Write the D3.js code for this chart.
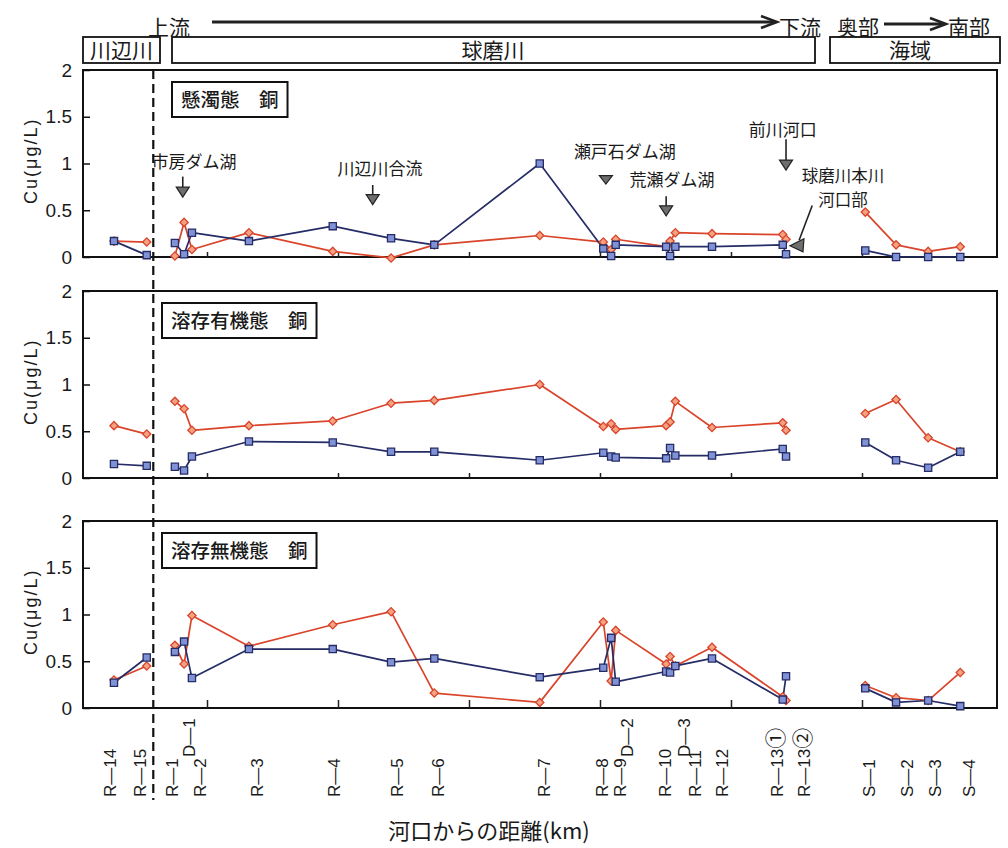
<!DOCTYPE html>
<html><head><meta charset="utf-8">
<script src="https://cdn.jsdelivr.net/npm/d3@7"></script>
<style>
body{margin:0;background:#fff}
svg{display:block}
text{fill:#1a1a1a}
</style>
</head><body>
<svg id="c" width="1008" height="848"></svg>
<script>
// ---------------- data ----------------
const stations = ["R—14","R—15","R—1","D—1","R—2","R—3","R—4","R—5","R—6","R—7","R—8","R—9","D—2","R—10","D—3","R—11","R—12","R—13①","R—13②","S—1","S—2","S—3","S—4"];
// distance along the horizontal axis (km-like units of the original axis)
const distanceKm = [5.8,10.8,15.1,16.5,17.7,26.4,39.2,48.1,54.7,70.8,80.5,81.7,82.4,90.1,90.7,91.5,97.1,107.9,108.4,120.5,125.2,130.1,135.0];
// where each station's tick label sits along the axis
const labelKm = [5.2,9.8,14.7,17.3,18.9,27.6,39.4,49.0,55.3,71.5,80.3,83.1,84.1,89.9,92.8,94.5,98.6,107.0,111.1,121.1,126.9,131.1,136.3];
const reach = ["川辺川","川辺川","球磨川","球磨川","球磨川","球磨川","球磨川","球磨川","球磨川","球磨川","球磨川","球磨川","球磨川","球磨川","球磨川","球磨川","球磨川","球磨川","球磨川","海域","海域","海域","海域"];

const panelTitles = ["懸濁態　銅","溶存有機態　銅","溶存無機態　銅"];
const yTicks = [0,0.5,1,1.5,2];
const xMajorTicks = [20,40,60,80,100,120];
const riverBoundaryKm = 11.8;

// red (diamond) series and blue (square) series, Cu µg/L
const suspendedRed  = [0.17,0.16, 0.01,0.37,0.08,0.26,0.06,-0.01,0.13,0.23, 0.16,0.08,0.19, 0.11,0.17,0.26, 0.25,0.24,0.19, 0.48,0.13,0.06,0.11];
const suspendedBlue = [0.17,0.02, 0.15,0.03,0.26,0.17,0.33,0.20,0.13,1.00, 0.09,0.01,0.13, 0.11,0.01,0.11, 0.11,0.13,0.03, 0.07,0.00,0.00,0.00];
const organicRed    = [0.56,0.47, 0.82,0.74,0.51,0.56,0.61,0.80,0.83,1.00, 0.55,0.58,0.52, 0.56,0.60,0.82, 0.54,0.59,0.51, 0.69,0.84,0.43,0.28];
const organicBlue   = [0.15,0.13, 0.12,0.08,0.23,0.39,0.38,0.28,0.28,0.19, 0.27,0.23,0.22, 0.21,0.32,0.24, 0.24,0.31,0.23, 0.38,0.19,0.11,0.28];
const inorganicRed  = [0.30,0.45, 0.67,0.47,0.99,0.66,0.89,1.03,0.16,0.06, 0.92,0.29,0.83, 0.47,0.55,0.45, 0.65,0.12,0.08, 0.24,0.11,0.08,0.38];
const inorganicBlue = [0.27,0.54, 0.60,0.71,0.32,0.63,0.63,0.49,0.53,0.33, 0.43,0.75,0.28, 0.39,0.38,0.45, 0.53,0.09,0.34, 0.21,0.06,0.08,0.02];

// annotations in the top panel (position in data units)
const annotations = [
  {text:"市房ダム湖",   km:18.0,  v:1.02, arrowKm:16.3,  stemTop:0.86, tip:0.64},
  {text:"川辺川合流",   km:46.4,  v:0.94, arrowKm:45.3,  stemTop:0.77, tip:0.56},
  {text:"瀬戸石ダム湖", km:83.8,  v:1.12, arrowKm:80.9,  stemTop:0.87, tip:0.78},
  {text:"荒瀬ダム湖",   km:91.0,  v:0.82, arrowKm:90.1,  stemTop:0.65, tip:0.44},
  {text:"前川河口",     km:107.9, v:1.36, arrowKm:108.4, stemTop:1.26, tip:0.93}
];
const mouthNote = {lines:["球磨川本川","河口部"], km:117.1, v:[0.87,0.61], leaderFrom:[112.4,0.55], leaderTo:[110.4,0.18], tip:[109.0,0.12]};

// ---------------- drawing ----------------
const JP = "'Noto Sans CJK JP','Noto Sans',sans-serif";
const NUM = "'Liberation Sans',Arial,'DejaVu Sans',sans-serif";
const RED = "#d9442a", RED_FILL = "#f5a283";
const BLUE = "#262c66", BLUE_FILL = "#8092d6";

const svg = d3.select("#c");
const x = d3.scaleLinear().domain([0,140]).range([76,993]);
const frameL = 83, frameR = 997, PH = 187;

const panels = [
  {title:panelTitles[0], red:suspendedRed, blue:suspendedBlue, y0:257, titleLeft:172},
  {title:panelTitles[1], red:organicRed,   blue:organicBlue,   y0:478, titleLeft:162},
  {title:panelTitles[2], red:inorganicRed, blue:inorganicBlue, y0:708, titleLeft:162}
];

// header boxes & arrows
const header = svg.append("g");
function box(x0,x1,label,cx){
  header.append("rect").attr("x",x0).attr("y",37).attr("width",x1-x0).attr("height",26)
    .attr("fill","none").attr("stroke","#111").attr("stroke-width",1.8);
  header.append("text").attr("x",cx).attr("y",50).attr("dy","0.36em").attr("text-anchor","middle")
    .style("font-family",JP).style("font-size","21px").text(label);
}
box(83,160,"川辺川",121.5);
box(172,815,"球磨川",493);
box(830,1000,"海域",910);
function hArrow(x0,x1,y){
  header.append("line").attr("x1",x0).attr("x2",x1-2).attr("y1",y).attr("y2",y)
    .attr("stroke","#222").attr("stroke-width",3);
  header.append("path").attr("d",`M${x1-16},${y-6}L${x1},${y}L${x1-16},${y+6}`)
    .attr("fill","none").attr("stroke","#222").attr("stroke-width",2.6);
}
hArrow(212,777,22);
hArrow(884,946,24);
[["上流",148,"start"],["下流",779,"start"],["奥部",837,"start"],["南部",948,"start"]].forEach(([t,xx,a])=>{
  header.append("text").attr("x",xx).attr("y",27).attr("dy","0.36em").attr("text-anchor",a)
    .style("font-family",JP).style("font-size","21px").text(t);
});

panels.forEach((p,i)=>{
  const y = d3.scaleLinear().domain([0,2]).range([p.y0, p.y0-PH]);
  const g = svg.append("g");

  // frame
  g.append("rect").attr("x",frameL).attr("y",y(2)).attr("width",frameR-frameL).attr("height",PH)
    .attr("fill","none").attr("stroke","#111").attr("stroke-width",2);

  // y axis
  const ya = g.append("g").attr("transform",`translate(${frameL},0)`)
    .call(d3.axisLeft(y).tickValues(yTicks).tickSize(-7).tickPadding(11).tickFormat(d3.format("~g")));
  ya.select(".domain").remove();
  ya.selectAll("line").attr("stroke","#111").attr("stroke-width",1.5);
  ya.selectAll("text").style("font-family",NUM).style("font-size","19px").attr("fill","#1a1a1a");

  // bottom ticks
  const xa = g.append("g").attr("transform",`translate(0,${p.y0})`)
    .call(d3.axisBottom(x).tickValues(xMajorTicks).tickSize(i===2?-8:-5).tickFormat(""));
  xa.select(".domain").remove();
  xa.selectAll("line").attr("stroke","#222").attr("stroke-width",1.5);

  // y title
  g.append("text").attr("transform",`translate(31,${y(1.03)}) rotate(-90)`)
    .attr("text-anchor","middle").attr("dy","0.35em")
    .style("font-family",NUM).style("font-size","18px").style("letter-spacing","2px")
    .text("Cu(μg/L)");

  // panel title box
  const tg = g.append("g");
  const tr = tg.append("rect").attr("x",p.titleLeft).attr("y",y(2)+12).attr("height",35)
    .attr("fill","#fff").attr("stroke","#111").attr("stroke-width",2);
  const tt = tg.append("text").attr("x",p.titleLeft+9).attr("y",y(2)+30).attr("dy","0.36em")
    .style("font-family",JP).style("font-size","19.5px").style("font-weight","500").text(p.title);
  tr.attr("width",tt.node().getBBox().width+18);

  // series
  const line = d3.line().x(d=>x(d.km)).y(d=>y(d.v));
  const mk = vals => stations.map((s,j)=>({s, km:distanceKm[j], reach:reach[j], v:vals[j]}));
  const red = mk(p.red), blue = mk(p.blue);
  [[red,RED],[blue,BLUE]].forEach(([pts,col])=>{
    d3.groups(pts,d=>d.reach).forEach(([k,arr])=>{
      g.append("path").attr("d",line(arr)).attr("fill","none").attr("stroke",col)
        .attr("stroke-width",1.7).attr("stroke-linejoin","round");
    });
  });
  g.append("g").selectAll("path").data(red).join("path")
    .attr("transform",d=>`translate(${x(d.km)},${y(d.v)}) rotate(45)`)
    .attr("d",d3.symbol(d3.symbolSquare,34)())
    .attr("fill",RED_FILL).attr("stroke",RED).attr("stroke-width",1.3);
  g.append("g").selectAll("path").data(blue).join("path")
    .attr("transform",d=>`translate(${x(d.km)},${y(d.v)})`)
    .attr("d",d3.symbol(d3.symbolSquare,52)())
    .attr("fill",BLUE_FILL).attr("stroke",BLUE).attr("stroke-width",1.3);

  if(i===0){
    annotations.forEach(a=>{
      g.append("text").attr("x",x(a.km)).attr("y",y(a.v)).attr("dy","0.36em").attr("text-anchor","middle")
        .style("font-family",JP).style("font-size","17px").text(a.text);
      const ax = x(a.arrowKm), top = y(a.stemTop), tip = y(a.tip);
      const th = Math.min(10, tip-top);
      if(tip-top>th+1){
        g.append("line").attr("x1",ax).attr("x2",ax).attr("y1",top).attr("y2",tip-th)
          .attr("stroke","#222").attr("stroke-width",1.6);
      }
      g.append("path").attr("d",`M${ax-6.5},${tip-th}L${ax+6.5},${tip-th}L${ax},${tip}Z`)
        .attr("fill","#6e6e6e").attr("stroke","#222").attr("stroke-width",1.2);
    });
    mouthNote.lines.forEach((t,j)=>{
      g.append("text").attr("x",x(mouthNote.km)).attr("y",y(mouthNote.v[j])).attr("dy","0.36em")
        .attr("text-anchor","middle").style("font-family",JP).style("font-size","16.5px").text(t);
    });
    g.append("line").attr("x1",x(mouthNote.leaderFrom[0])).attr("y1",y(mouthNote.leaderFrom[1]))
      .attr("x2",x(mouthNote.leaderTo[0])).attr("y2",y(mouthNote.leaderTo[1]))
      .attr("stroke","#222").attr("stroke-width",1.6);
    const tx = x(mouthNote.tip[0]), ty = y(mouthNote.tip[1]);
    g.append("path").attr("d",`M${tx},${ty}L${tx+14},${ty-7}L${tx+13},${ty+6}Z`)
      .attr("fill","#6e6e6e").attr("stroke","#222").attr("stroke-width",1.2);
  }
});

// river boundary dashed line
svg.append("line").attr("x1",x(riverBoundaryKm)).attr("x2",x(riverBoundaryKm))
  .attr("y1",panels[0].y0-PH).attr("y2",800)
  .attr("stroke","#111").attr("stroke-width",2.2).attr("stroke-dasharray","9,5");

// station labels
const lab = svg.append("g").selectAll("text").data(stations).join("text")
  .attr("transform",(d,j)=>`translate(${x(labelKm[j])},${d.startsWith("D")?757:797}) rotate(-90)`)
  .attr("dy","0.36em").attr("text-anchor","start")
  .style("font-family",NUM).style("font-size","17px");
lab.each(function(d){
  const t = d3.select(this);
  const m = d.match(/^(.*?)([①②]?)$/);
  t.append("tspan").text(m[1]);
  if(m[2]) t.append("tspan").style("font-family",JP).style("font-size","21px").text(m[2]);
});

// x axis title
svg.append("text").attr("x",489).attr("y",831).attr("dy","0.36em").attr("text-anchor","middle")
  .style("font-family",JP).style("font-size","22px").text("河口からの距離(km)");
</script>
</body></html>
